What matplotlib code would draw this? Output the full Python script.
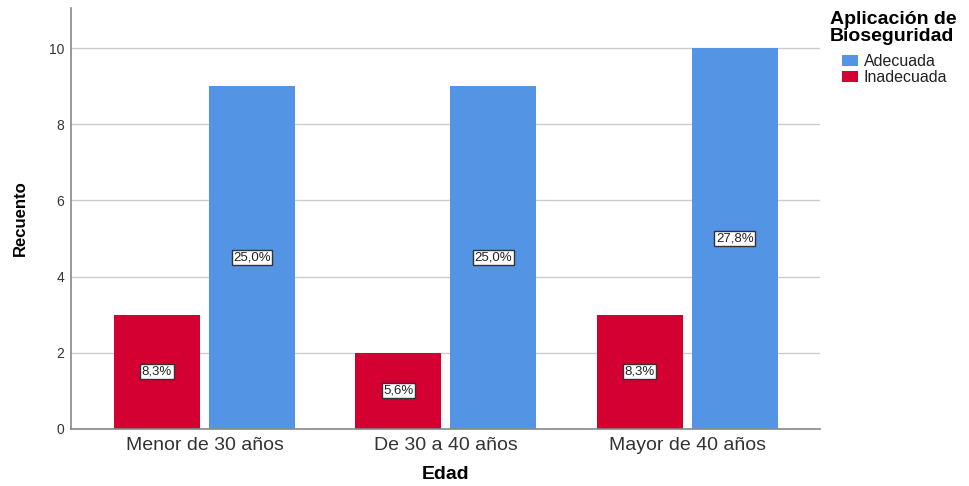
import matplotlib
matplotlib.use("Agg")
import matplotlib.pyplot as plt
import numpy as np

plt.rcParams['font.family'] = ['Liberation Sans', 'DejaVu Sans']

categories = ["Menor de 30 años", "De 30 a 40 años", "Mayor de 40 años"]
series_names = ["Adecuada", "Inadecuada"]
adecuada = [9, 9, 10]
inadecuada = [3, 2, 3]
pct_adecuada = ["25,0%", "25,0%", "27,8%"]
pct_inadecuada = ["8,3%", "5,6%", "8,3%"]
y_ticks = [0, 2, 4, 6, 8, 10]

blue = "#5494E4"
red = "#D50032"
text_col = "#222222"

fig = plt.figure(figsize=(9.7, 4.86), dpi=100)
ax = fig.add_axes([0.0732, 0.1173, 0.7718, 0.8662])

x = np.arange(len(categories))
w = 0.356
off = 0.197
bars_r = ax.bar(x - off, inadecuada, w, color=red, zorder=2, label=series_names[1])
bars_b = ax.bar(x + off, adecuada, w, color=blue, zorder=2, label=series_names[0])

box = dict(boxstyle="square,pad=0.12", facecolor="white", edgecolor="#333333", linewidth=1.0)
for bars, labels in ((bars_r, pct_inadecuada), (bars_b, pct_adecuada)):
    for b, t in zip(bars, labels):
        ax.text(b.get_x() + b.get_width() / 2, b.get_height() / 2, t,
                ha="center", va="center", fontsize=9.5, color=text_col,
                bbox=box, zorder=3)

ax.set_xlim(-0.553, 2.549)
ax.set_ylim(0, 11.05)
ax.set_yticks(y_ticks)
ax.set_xticks(x)
ax.set_xticklabels(categories, fontsize=14, color="#333333")
ax.tick_params(axis="y", length=0, labelsize=10, pad=5, colors="#333333")
ax.tick_params(axis="x", length=0, pad=6)
ax.yaxis.grid(True, color="#CCCCCC", linewidth=1.0, zorder=0)
ax.set_axisbelow(True)
for s in ("top", "right"):
    ax.spines[s].set_visible(False)
for s in ("left", "bottom"):
    ax.spines[s].set_color("#888888")
    ax.spines[s].set_linewidth(1.2)

ax.set_ylabel("Recuento", fontsize=12, fontweight="bold", color="black")
ax.yaxis.set_label_coords(-0.057, 0.5)
ax.set_xlabel("Edad", fontsize=14, fontweight="bold", color="black")
ax.xaxis.set_label_coords(0.5, -0.088)

# legend title and entries
fig.text(830 / 970, 1 - 11 / 486, "Aplicación de\nBioseguridad", ha="left", va="top",
         fontsize=14, fontweight="bold", linespacing=1.0, color="black")
handles = [bars_b, bars_r]
leg = fig.legend(handles, series_names, loc="upper left",
                 bbox_to_anchor=(842 / 970, 1 - 54 / 486), frameon=False,
                 fontsize=11.5, handlelength=1.0, handleheight=0.65,
                 handletextpad=0.35, labelspacing=0.08, borderaxespad=0, borderpad=0)
for t in leg.get_texts():
    t.set_color("#222222")

fig.savefig("out.png", dpi=100)
